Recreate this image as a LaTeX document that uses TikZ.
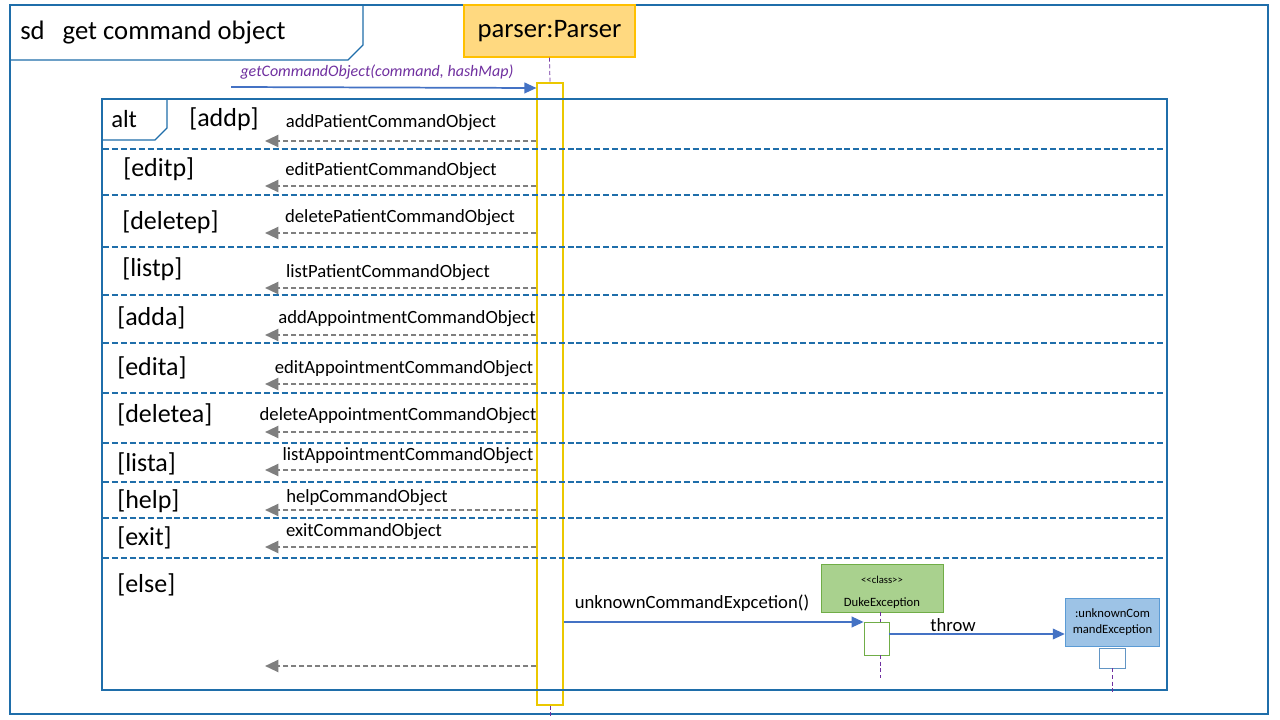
\documentclass[tikz,border=0pt]{standalone}
\usepackage{fontspec}
\setmainfont{Carlito}
\usetikzlibrary{arrows.meta}
\definecolor{frameblue}{RGB}{31,110,170}
\definecolor{msgblue}{RGB}{68,114,196}
\definecolor{retgray}{RGB}{127,127,127}
\definecolor{lifepurple}{RGB}{112,48,160}
\definecolor{parserfill}{RGB}{255,217,128}
\definecolor{parserdraw}{RGB}{255,192,0}
\definecolor{actdraw}{RGB}{235,200,0}
\definecolor{dukefill}{RGB}{169,209,142}
\definecolor{dukedraw}{RGB}{112,173,71}
\definecolor{uncfill}{RGB}{157,195,230}
\definecolor{uncdraw}{RGB}{91,155,213}
\definecolor{msgpurple}{RGB}{112,48,160}
\begin{document}
\begin{tikzpicture}[x=0.75pt,y=-0.75pt,
  frame/.style={draw=frameblue,line width=1.5pt},
  sep/.style={draw=frameblue,line width=1.1pt,dash pattern=on 4.5pt off 2.2pt},
  ret/.style={draw=retgray,line width=1.6pt,dash pattern=on 4pt off 2pt,-{Triangle[length=10pt,width=9pt]}},
  msg/.style={draw=msgblue,line width=1.3pt,-{Triangle[length=9pt,width=8pt]}},
  life/.style={draw=lifepurple,line width=0.6pt,dash pattern=on 3pt off 2pt},
  guard/.style={font=\fontsize{19.5}{22}\selectfont,anchor=west,inner sep=0pt},
  rlabel/.style={font=\fontsize{14}{16}\selectfont,inner sep=0pt},
  ]
\useasboundingbox (0,0) rectangle (1280,720);
\fill[white] (0,0) rectangle (1280,720);
% outer frame
\draw[frame] (10,5) rectangle (1268,714);
\draw[draw=frameblue,line width=0.8pt] (10,60) -- (348,60) -- (363,45) -- (363,5);
\node[anchor=west,inner sep=0pt,font=\fontsize{20}{22}\selectfont] (title) at (20,33) {sd\hspace{0.45em} get command object};
% parser
\node[draw=parserdraw,fill=parserfill,line width=1pt,minimum width=128.25pt,minimum height=39pt,inner sep=0pt,font=\fontsize{20}{22}\selectfont] (parser) at (549.5,31) {parser:Parser};
\node[draw=actdraw,fill=white,line width=0.85pt,minimum width=19.5pt,minimum height=466.5pt,inner sep=0pt] (act) at (550,394) {};
\draw[life] (parser.south) -- (act.north);
\coordinate (actbot) at (550,718);
\draw[life] (act.south) -- (actbot);
% incoming message
\coordinate (start) at (231,87);
\draw[msg] (start) -- (act.north west |- 0,88);
\node[rlabel,font=\fontsize{12}{14}\selectfont\itshape,text=msgpurple] (gcl) at (377,72) {getCommandObject(command, hashMap)};
% alt frame
\draw[frame] (102,99) rectangle (1167,690);
\draw[draw=frameblue,line width=0.8pt] (102,140) -- (155,140) -- (167,128) -- (167,99);
\node[anchor=west,inner sep=0pt,font=\fontsize{18.5}{20}\selectfont] (alt) at (111,119) {alt};
\node[guard] (g0) at (189,119) {[addp]};
% separators
\foreach \y in {149,195,247,295,343,393,443,482,518,558}{
  \draw[sep] (103,\y) -- (1166,\y);
}
% guards
\node[guard] (g1) at (123,169) {[editp]};
\node[guard] (g2) at (122,222) {[deletep]};
\node[guard] (g3) at (122,269) {[listp]};
\node[guard] (g4) at (117,318) {[adda]};
\node[guard] (g5) at (117,368) {[edita]};
\node[guard] (g6) at (117,415) {[deletea]};
\node[guard] (g7) at (117,464) {[lista]};
\node[guard] (g8) at (117,501) {[help]};
\node[guard] (g9) at (117,538) {[exit]};
\node[guard] (g10) at (117,585) {[else]};
% returns
\foreach \y/\lx/\ly/\txt in {
  141/391/123/addPatientCommandObject,
  186/391/171/editPatientCommandObject,
  233/400/218/deletePatientCommandObject,
  288/388/273/listPatientCommandObject,
  335/407/319/addAppointmentCommandObject,
  384/404/369/editAppointmentCommandObject,
  432/398/416/deleteAppointmentCommandObject,
  470/408/456/listAppointmentCommandObject,
  510/367/498/helpCommandObject,
  547/364/532/exitCommandObject}{
  \coordinate (rt) at (265,\y);
  \draw[ret] (act.west |- 0,\y) -- (rt);
  \node[rlabel] at (\lx,\ly) {\txt};
}
\coordinate (rtelse) at (265,666);
\draw[ret] (act.west |- 0,666) -- (rtelse);
% DukeException
\node[draw=dukedraw,fill=dukefill,line width=0.6pt,minimum width=92pt,minimum height=36pt,inner sep=0pt] (duke) at (882.5,588) {};
\node[inner sep=0pt,font=\fontsize{8}{9}\selectfont] (dukec) at (882,580) {{<}{<}class{>}{>}};
\node[inner sep=0pt,font=\fontsize{9.5}{10}\selectfont] (duken) at (882,603) {DukeException};
\node[draw=dukedraw,fill=white,line width=0.6pt,minimum width=18.75pt,minimum height=24.75pt,inner sep=0pt] (dact) at (876.5,638.5) {};
\coordinate (dukebot) at (880,678);
\draw[life] (880,612) -- (880,622);
\draw[life] (880,655) -- (dukebot);
\draw[msg] (act.east |- 0,622) -- (dact.west |- 0,622);
\node[rlabel] (ulab) at (692,603) {unknownCommandExpcetion()};
% unknownCommandException
\node[draw=uncdraw,fill=uncfill,line width=0.6pt,minimum width=71pt,minimum height=36pt,inner sep=0pt,align=center,font=\fontsize{9.5}{12}\selectfont] (unc) at (1112.5,622) {:unknownCom\\mandException};
\node[draw=uncdraw!80!gray,fill=white,line width=0.6pt,minimum width=19.5pt,minimum height=15pt,inner sep=0pt] (uact) at (1112,658) {};
\coordinate (uncbot) at (1112,692);
\draw[life] (uact.south) -- (uncbot);
\draw[msg] (dact.east |- 0,634) -- (unc.west |- 0,634);
\node[rlabel] (thr) at (953,625) {throw};
\end{tikzpicture}
\end{document}
